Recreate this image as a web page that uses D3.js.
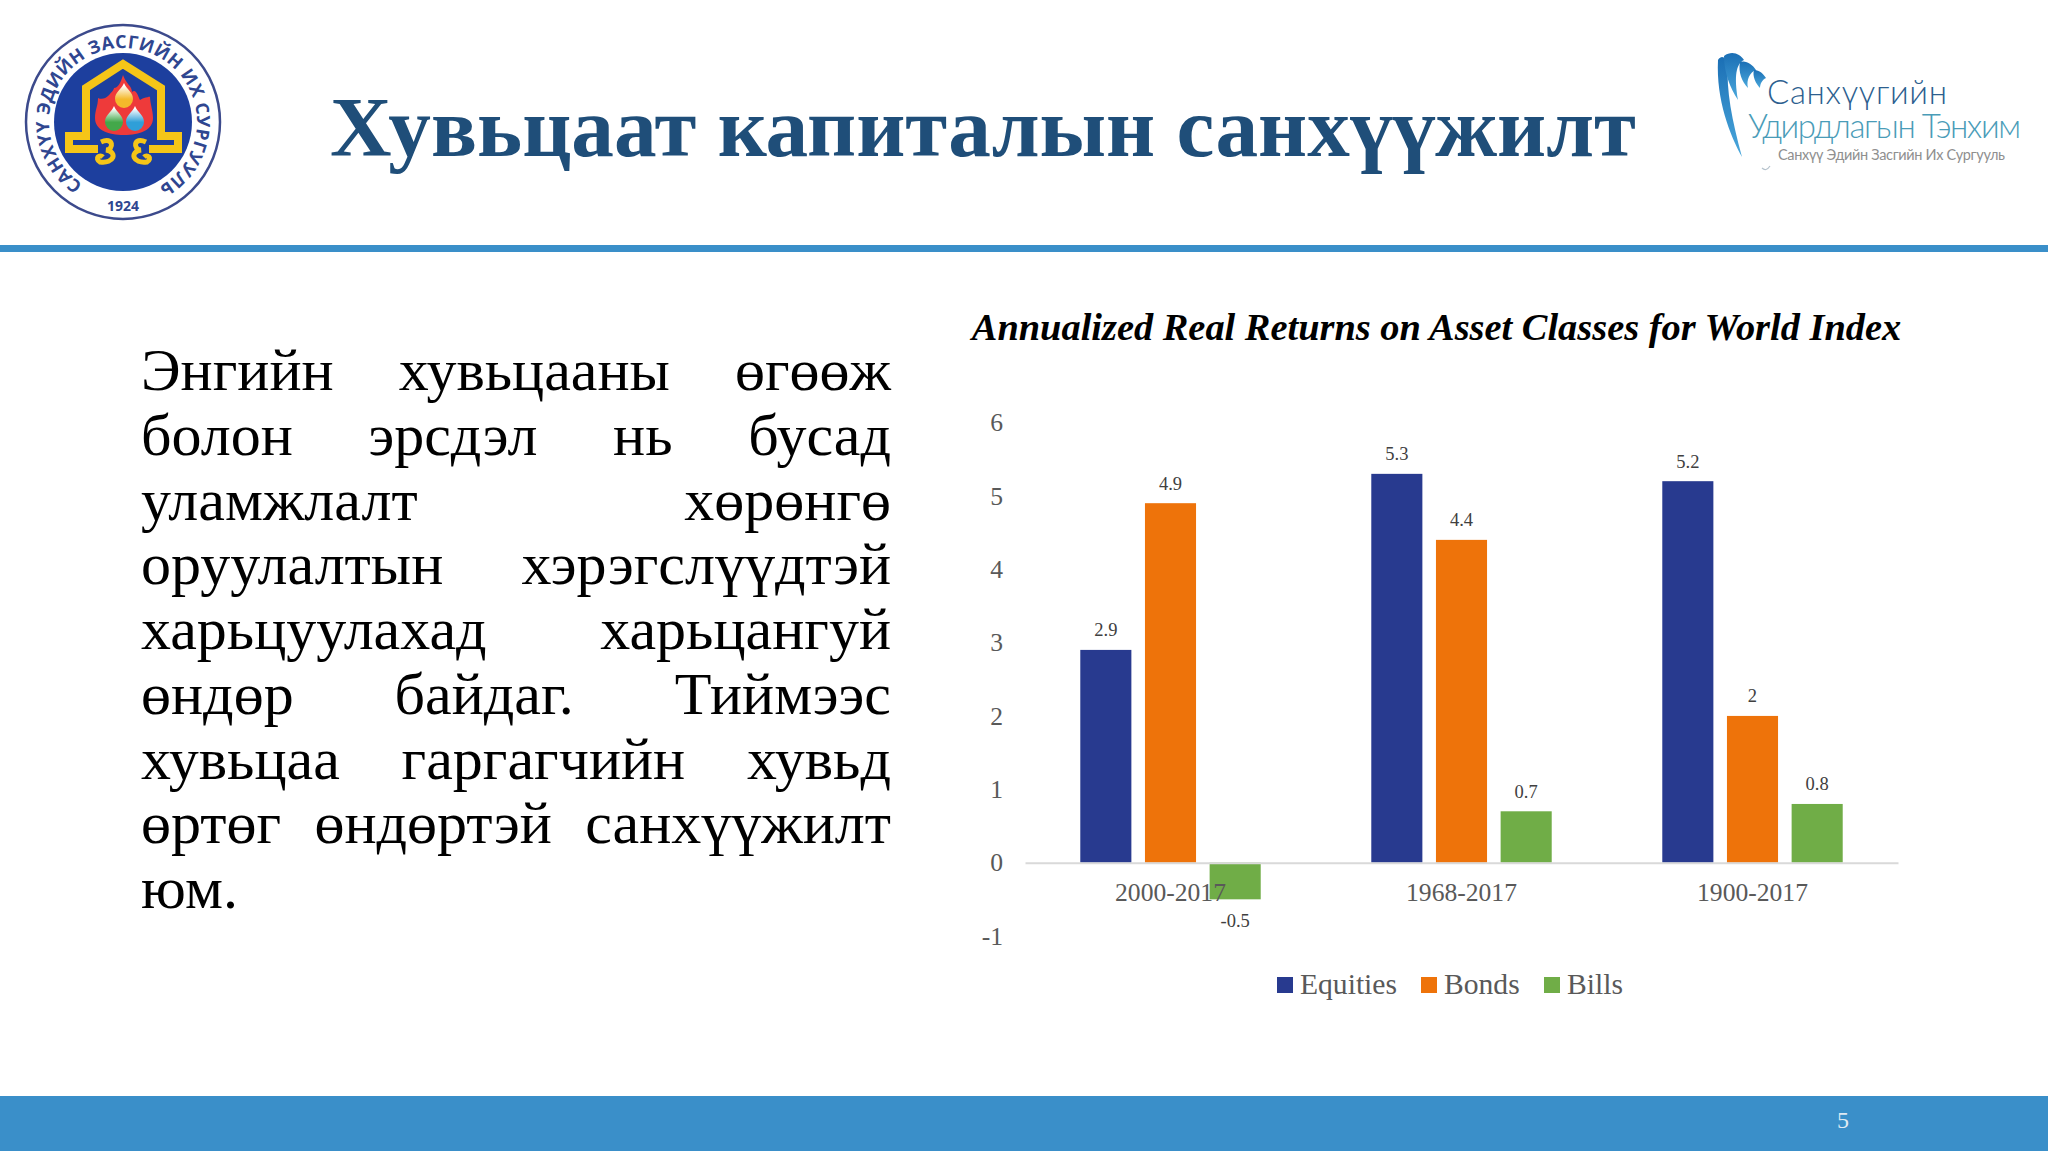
<!DOCTYPE html>
<html>
<head>
<meta charset="utf-8">
<script src="https://d3js.org/d3.v7.min.js"></script>
<style>
  html, body { margin: 0; padding: 0; background: #fff; }
  svg { display: block; }
  text { font-family: "Liberation Serif", serif; }
</style>
</head>
<body>
<svg id="page"></svg>

<script>
var categories = ["2000-2017", "1968-2017", "1900-2017"];
var seriesNames = ["Equities", "Bonds", "Bills"];
var equities = [2.9, 5.3, 5.2];
var bonds = [4.9, 4.4, 2];
var bills = [-0.5, 0.7, 0.8];
var seriesValues = [equities, bonds, bills];
var seriesColors = ["#283a8f", "#ee730a", "#70ad47"];
var yTicks = [-1, 0, 1, 2, 3, 4, 5, 6];

var titleText = "Хувьцаат капиталын санхүүжилт";
var chartTitle = "Annualized Real Returns on Asset Classes for World Index";
var bodyLines = [
  "Энгийн хувьцааны өгөөж",
  "болон эрсдэл нь бусад",
  "уламжлалт хөрөнгө",
  "оруулалтын хэрэгслүүдтэй",
  "харьцуулахад харьцангуй",
  "өндөр байдаг. Тиймээс",
  "хувьцаа гаргагчийн хувьд",
  "өртөг өндөртэй санхүүжилт",
  "юм."
];

var width = 2048;
var height = 1152;
var svg = d3.select("#page").attr("width", width).attr("height", height);
var defs = svg.append("defs");

// slide frame
svg.append("rect").attr("x", 0).attr("y", 245).attr("width", width).attr("height", 7).attr("fill", "#3a8fc9");
svg.append("rect").attr("x", 0).attr("y", 1096).attr("width", width).attr("height", 55).attr("fill", "#3a8fc9");
svg.append("text").attr("x", 1843).attr("y", 1128).attr("text-anchor", "middle")
  .attr("font-size", 24).attr("fill", "#dfeaf3").text("5");

svg.append("text").attr("x", 983).attr("y", 156).attr("text-anchor", "middle")
  .attr("font-size", 85.3).attr("font-weight", "bold").attr("fill", "#1f4e79")
  .text(titleText);

// justified body text, every line but the last is stretched with word-spacing
var bodyLeft = 141, bodyRight = 891, bodyTop = 390, bodyStep = 64.75;
bodyLines.forEach(function(line, i) {
  var t = svg.append("text").attr("x", bodyLeft).attr("y", bodyTop + i * bodyStep)
    .attr("font-size", 60).attr("fill", "#000").text(line);
  if (i < bodyLines.length - 1) {
    var gaps = line.split(" ").length - 1;
    var extra = (bodyRight - bodyLeft - t.node().getComputedTextLength()) / gaps;
    t.attr("word-spacing", extra);
  }
});

// chart
var plotLeft = 1025, plotRight = 1898;
var y = d3.scaleLinear().domain([-1, 6]).range([936, 422.5]);
var x0 = d3.scaleBand().domain(categories).range([plotLeft, plotRight]).paddingInner(0.38).paddingOuter(0.19);
var x1 = d3.scaleBand().domain(seriesNames).range([0, x0.bandwidth()]).paddingInner(0.21);

svg.append("text").attr("x", 1436.5).attr("y", 340).attr("text-anchor", "middle")
  .attr("font-size", 38.4).attr("font-weight", "bold").attr("font-style", "italic")
  .attr("fill", "#000").text(chartTitle);

var groups = svg.selectAll(".group").data(categories).enter().append("g")
  .attr("class", "group")
  .attr("transform", function(d) { return "translate(" + x0(d) + ",0)"; });

seriesNames.forEach(function(name, s) {
  groups.append("rect")
    .attr("x", x1(name))
    .attr("width", x1.bandwidth())
    .attr("y", function(d, i) { return y(Math.max(0, seriesValues[s][i])); })
    .attr("height", function(d, i) { return Math.abs(y(seriesValues[s][i]) - y(0)); })
    .attr("fill", seriesColors[s]);
  groups.append("text")
    .attr("x", x1(name) + x1.bandwidth() / 2)
    .attr("y", function(d, i) {
      var v = seriesValues[s][i];
      return v < 0 ? y(v) + 28 : y(v) - 13.5;
    })
    .attr("text-anchor", "middle")
    .attr("font-size", 18.5)
    .attr("fill", "#404040")
    .text(function(d, i) { return seriesValues[s][i]; });
});

var yAxis = svg.append("g")
  .attr("transform", "translate(" + plotLeft + ",0)")
  .call(d3.axisLeft(y).tickValues(yTicks).tickSize(0).tickPadding(22).tickFormat(function(d) { return String(d); }));
yAxis.select(".domain").remove();

var xAxis = svg.append("g")
  .attr("transform", "translate(0," + y(0) + ")")
  .call(d3.axisBottom(x0).tickSize(0).tickPadding(20));
xAxis.select(".domain").attr("stroke", "#d9d9d9").attr("stroke-width", 2);

svg.selectAll(".tick text")
  .attr("font-family", "Liberation Serif")
  .attr("font-size", 25.6)
  .attr("fill", "#595959");

// legend
var legendSwatch = [1277, 1421, 1544];
seriesNames.forEach(function(name, s) {
  svg.append("rect").attr("x", legendSwatch[s]).attr("y", 977).attr("width", 16).attr("height", 16)
    .attr("fill", seriesColors[s]);
  svg.append("text").attr("x", legendSwatch[s] + 23).attr("y", 994)
    .attr("font-size", 29.6).attr("fill", "#595959").text(name);
});

// university seal, top left
var seal = svg.append("g");
var cx = 123, cy = 122;
seal.append("circle").attr("cx", cx).attr("cy", cy).attr("r", 97).attr("fill", "#fff").attr("stroke", "#3c4a8c").attr("stroke-width", 2.5);
seal.append("circle").attr("cx", cx).attr("cy", cy).attr("r", 69).attr("fill", "#1d3f9e");

var ringR = 74;
var a0 = 33 * Math.PI / 180, a1 = 30 * Math.PI / 180;
defs.append("path").attr("id", "ring")
  .attr("d", "M" + (cx - ringR * Math.sin(a0)) + " " + (cy + ringR * Math.cos(a0)) +
    " A" + ringR + " " + ringR + " 0 1 1 " + (cx + ringR * Math.sin(a1)) + " " + (cy + ringR * Math.cos(a1)));
seal.append("text").attr("font-size", 18).attr("font-weight", "bold").attr("fill", "#2f4690")
  .style("font-family", "Open Sans")
  .append("textPath").attr("href", "#ring").attr("textLength", 384)
  .text("САНХҮҮ ЭДИЙН ЗАСГИЙН ИХ СУРГУУЛЬ");
seal.append("text").attr("x", cx).attr("y", 211).attr("text-anchor", "middle")
  .attr("font-size", 14).attr("font-weight", "bold").attr("fill", "#2f4690")
  .style("font-family", "Open Sans").text("1924");

seal.append("path")
  .attr("d", "M98 149 H69 V136 H86 V88 L123 64 L161 88 V136 H178 V149 H149")
  .attr("fill", "none").attr("stroke", "#f5c518").attr("stroke-width", 8);
seal.append("path")
  .attr("d", "M123 75 C126 84 132 86 132 92 C136 88 138 96 140 100 C146 96 150 98 150 96 C150 104 153 110 153 118 C153 130 140 135 124 135 C108 135 95 130 95 118 C95 110 98 106 98 98 C102 100 106 98 108 96 C110 94 114 90 114 88 C118 88 121 82 123 75 Z")
  .attr("fill", "#ee3a3a");
[["dropY", 124, 96, "#f4b92b"], ["dropG", 114, 119, "#43a84a"], ["dropB", 135, 119, "#2f9fd8"]].forEach(function(d) {
  var g = defs.append("linearGradient").attr("id", d[0]).attr("x1", 0).attr("y1", 0).attr("x2", 0).attr("y2", 1);
  g.append("stop").attr("offset", 0.1).attr("stop-color", "#fff");
  g.append("stop").attr("offset", 0.65).attr("stop-color", d[3]);
  var px = d[1], py = d[2];
  seal.append("path")
    .attr("d", "M" + px + " " + (py - 13) + " C" + (px + 3) + " " + (py - 6) + " " + (px + 9) + " " + (py - 4) + " " + (px + 9) + " " + (py + 3) +
      " A9 9 0 0 1 " + (px - 9) + " " + (py + 3) + " C" + (px - 9) + " " + (py - 4) + " " + (px - 3) + " " + (py - 6) + " " + px + " " + (py - 13) + " Z")
    .attr("fill", "url(#" + d[0] + ")");
});
seal.selectAll(".curl").data([[106, 1], [141, -1]]).enter().append("path")
  .attr("d", function(d) {
    var s = d[1], px = d[0];
    return "M" + (px - 5 * s) + " 142 C" + (px + 8 * s) + " 136 " + (px + 8 * s) + " 150 " + px + " 150 C" + (px + 12 * s) + " 152 " + (px + 8 * s) + " 164 " + (px - 6 * s) + " 162 C" + (px - 12 * s) + " 158 " + (px - 6 * s) + " 154 " + (px - 3 * s) + " 157";
  })
  .attr("fill", "none").attr("stroke", "#f5c518").attr("stroke-width", 5);

// institute logo, top right
var logo = svg.append("g");
var grad = defs.append("linearGradient").attr("id", "swoosh").attr("x1", 0).attr("y1", 0).attr("x2", 0).attr("y2", 1);
grad.append("stop").attr("offset", 0).attr("stop-color", "#1b6fb5");
grad.append("stop").attr("offset", 1).attr("stop-color", "#4aa8dc");
[
  "M1718 60 C1722 54 1726 58 1728 64 C1726 90 1732 120 1742 157 C1730 135 1716 100 1718 60 Z",
  "M1724 56 C1732 50 1740 54 1744 60 C1736 64 1734 76 1738 100 C1730 88 1724 72 1724 56 Z",
  "M1740 62 C1746 60 1752 64 1756 70 C1750 72 1746 80 1748 88 C1742 82 1738 72 1740 62 Z",
  "M1754 70 C1758 70 1762 72 1766 78 C1762 80 1760 84 1760 88 C1756 84 1752 76 1754 70 Z"
].forEach(function(d) { logo.append("path").attr("d", d).attr("fill", "url(#swoosh)"); });
logo.append("path").attr("d", "M1762 168 Q1766 172 1770 166").attr("fill", "none").attr("stroke", "#b5c2cc").attr("stroke-width", 1.2);
logo.append("text").attr("x", 1767).attr("y", 104).attr("font-size", 33).attr("font-weight", 300).attr("fill", "#2d5f8f")
  .attr("textLength", 180).style("font-family", "Lato").text("Санхүүгийн");
logo.append("text").attr("x", 1748).attr("y", 138).attr("font-size", 33).attr("font-weight", 300).attr("fill", "#4a9cb8")
  .attr("textLength", 273).style("font-family", "Lato").text("Удирдлагын Тэнхим");
logo.append("text").attr("x", 1778).attr("y", 160).attr("font-size", 14.5).attr("fill", "#8f8f8f")
  .attr("textLength", 227).style("font-family", "Lato").text("Санхүү Эдийн Засгийн Их Сургууль");
</script>
</body>
</html>
